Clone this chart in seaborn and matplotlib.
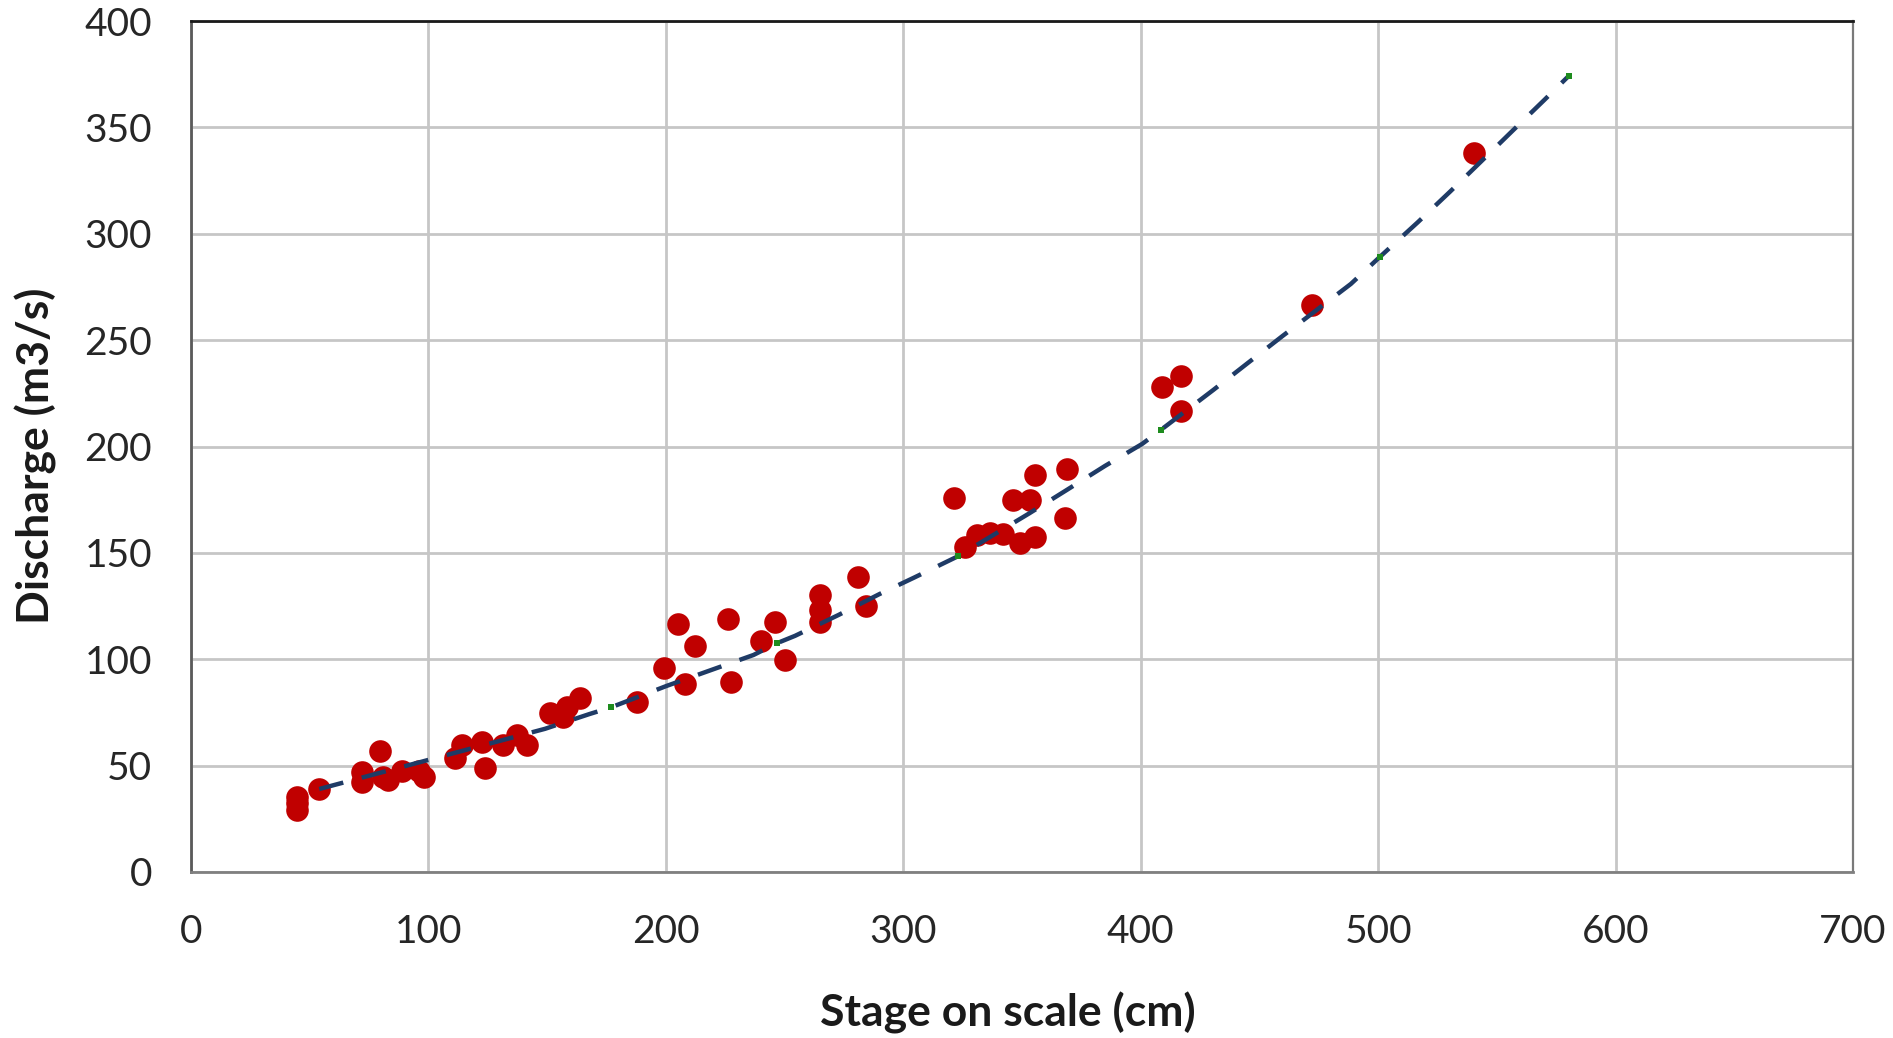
import matplotlib
matplotlib.use("Agg")
import matplotlib.pyplot as plt
import seaborn as sns
import pandas as pd

# Measured gaugings: stage on the staff gauge (cm) and discharge (m3/s)
stage = [44.5, 44.5, 44.5, 54.0, 71.9, 71.9, 79.6, 80.9, 83.0, 88.7,
         96.0, 98.0, 111.2, 114.0, 122.4, 123.8, 131.6, 137.2, 141.4, 151.2,
         156.8, 158.3, 163.9, 187.7, 199.4, 205.0, 208.1, 212.4, 226.3, 227.3,
         240.1, 246.0, 250.2, 265.0, 265.0, 265.0, 281.1, 284.2, 321.4, 325.9,
         330.9, 336.5, 342.2, 346.4, 349.2, 353.4, 355.5, 355.5, 368.1, 369.1,
         409.1, 417.0, 417.0, 472.3, 540.4]
discharge = [35.3, 32.2, 29.1, 38.9, 47.1, 42.4, 56.7, 44.7, 43.2, 47.5,
             47.5, 44.8, 53.4, 59.7, 61.2, 49.0, 59.7, 64.4, 59.7, 74.6,
             73.0, 77.7, 81.6, 80.0, 95.7, 116.6, 88.4, 106.4, 118.8, 89.4,
             108.7, 117.6, 99.6, 130.2, 123.1, 117.6, 138.5, 125.2, 175.6, 152.9,
             158.4, 159.2, 158.7, 174.9, 154.5, 174.9, 186.6, 157.6, 166.3, 189.3,
             228.1, 233.1, 216.7, 266.5, 338.1]

# Rating curve (stage-discharge relation)
curve_stage = [54.0, 61.7, 149.1, 167.7, 176.9, 200.4, 220.0, 236.9, 246.7, 254.4,
               272.7, 289.9, 304.6, 323.2, 353.1, 368.9, 385.0, 400.6, 408.5, 430.6,
               445.4, 459.8, 488.5, 500.8, 516.6, 530.3, 543.3, 556.6, 570.0, 580.2]
curve_q = [39.0, 41.3, 67.3, 74.2, 77.4, 87.5, 95.3, 102.0, 107.5, 111.0,
           120.8, 130.6, 138.4, 148.5, 168.6, 179.6, 190.9, 201.2, 207.8, 226.6,
           239.5, 252.0, 276.4, 289.2, 305.3, 319.8, 333.9, 348.4, 362.9, 374.1]

# Computed points on the rating curve
rating_stage = [176.9, 246.7, 323.2, 408.5, 500.8, 580.2]
rating_q = [77.4, 107.5, 148.5, 207.8, 289.2, 374.1]

x_ticks = [0, 100, 200, 300, 400, 500, 600, 700]
y_ticks = [0, 50, 100, 150, 200, 250, 300, 350, 400]

gaugings = pd.DataFrame({"stage": stage, "discharge": discharge})
curve = pd.DataFrame({"stage": curve_stage, "discharge": curve_q})
rating = pd.DataFrame({"stage": rating_stage, "discharge": rating_q})

sns.set_style("white")
plt.rcParams["font.family"] = ["Lato", "DejaVu Sans"]

fig = plt.figure(figsize=(18.93, 10.38), dpi=100)
ax = fig.add_axes([191 / 1893, 1 - 872 / 1038, (1853 - 191) / 1893, (872 - 21) / 1038])

sns.scatterplot(data=gaugings, x="stage", y="discharge", ax=ax, color="#C00000",
                s=265, linewidth=0, zorder=3, legend=False)
sns.lineplot(data=curve, x="stage", y="discharge", ax=ax, sort=False, estimator=None,
             color="#1F3B66", linewidth=3.2, dashes=False, zorder=4, legend=False)
ax.lines[-1].set_dashes((5.6, 4.3))
ax.lines[-1].set_dash_capstyle("butt")
sns.scatterplot(data=rating, x="stage", y="discharge", ax=ax, color="#1E8C1E",
                marker="s", s=20, linewidth=0, zorder=5, legend=False)

ax.set_xlim(0, 700)
ax.set_ylim(0, 400)
ax.set_xticks(x_ticks)
ax.set_yticks(y_ticks)
ax.grid(True, color="#C6C6C6", linewidth=2)
ax.set_axisbelow(True)

for side, col, lw in [("top", "#1A1A1A", 2.0), ("right", "#7A7A7A", 1.6),
                      ("left", "#5A5A5A", 2.0), ("bottom", "#808080", 2.0)]:
    ax.spines[side].set_visible(True)
    ax.spines[side].set_color(col)
    ax.spines[side].set_linewidth(lw)

ax.tick_params(axis="both", direction="out", length=9.5, width=1.6, color="#D0D0D0",
               labelsize=28, labelcolor="#262626")
ax.tick_params(axis="y", pad=18.5)
ax.tick_params(axis="x", pad=21)
ax.set_xlabel("")
ax.set_ylabel("")

fig.text(1007.5 / 1893, 1 - 1027 / 1038, "Stage on scale (cm)", ha="center", va="baseline",
         fontsize=32, fontweight="bold", color="#1A1A1A")
fig.text(36 / 1893, 1 - 456 / 1038, "Discharge (m3/s)", ha="center", va="center",
         rotation=90, fontsize=32, fontweight="bold", color="#1A1A1A")

fig.savefig("out.png", dpi=100, facecolor="white")
